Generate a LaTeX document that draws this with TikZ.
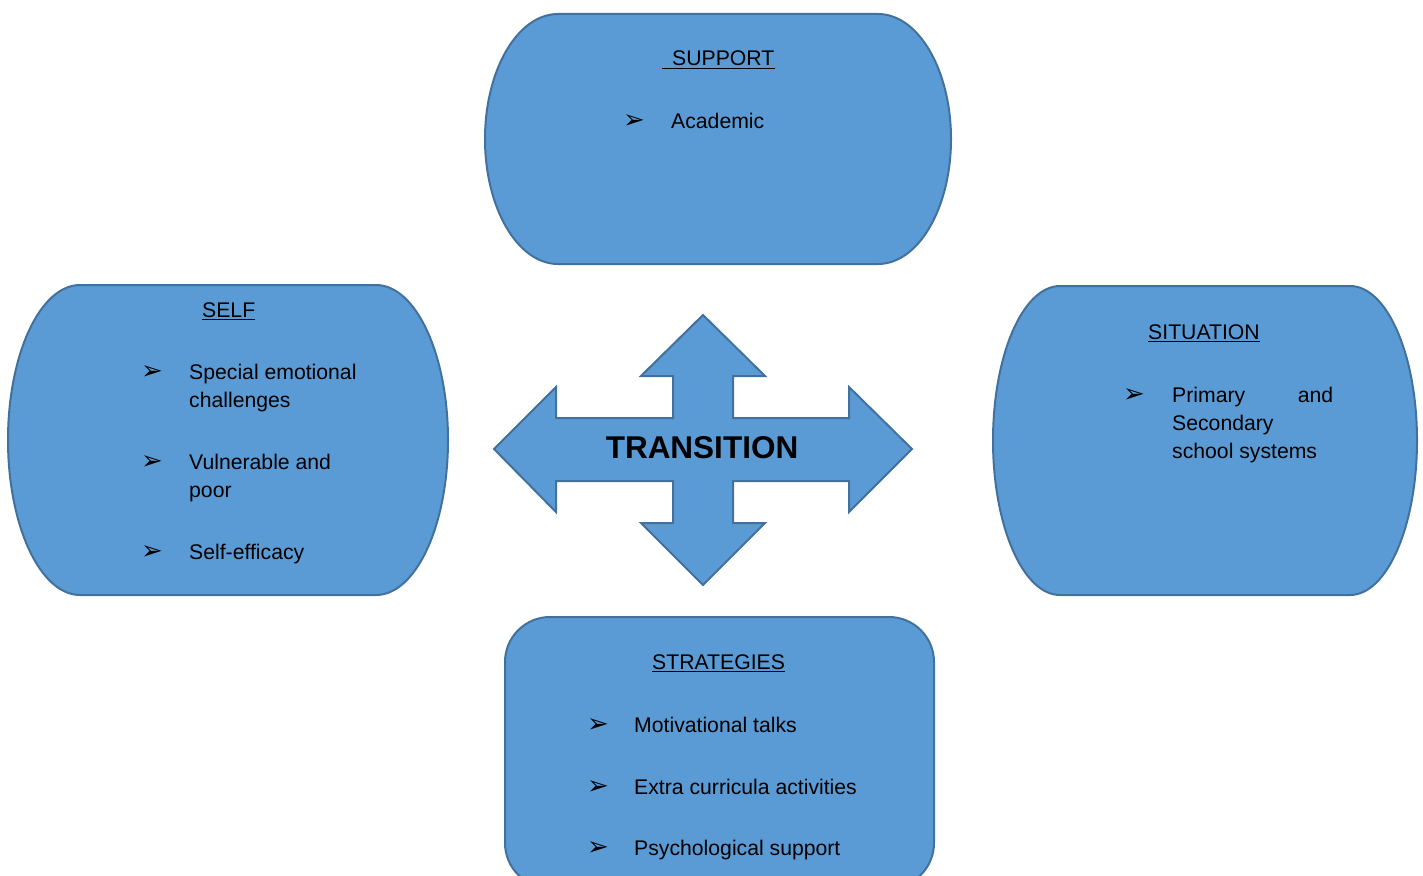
\documentclass[tikz,border=0pt]{standalone}
\usepackage{fontspec}
\setmainfont{Liberation Sans}
\newfontfamily\bulletfont{DejaVu Sans}
\definecolor{boxblue}{HTML}{5B9BD5}
\definecolor{boxedge}{HTML}{41719C}
\newcommand\mybody{\fontsize{21.2}{25}\selectfont}
\newcommand\mybullet{\bulletfont\fontsize{26}{26}\selectfont}
\begin{document}
\begin{tikzpicture}[x=1pt,y=-1pt,
  shapebox/.style={fill=boxblue,draw=boxedge,line width=2pt,line join=round},
  txt/.style={anchor=base west,inner sep=0pt,font=\mybody},
  bul/.style={anchor=west,inner sep=0pt,font=\mybullet,yshift=6pt},
  uline/.style={line width=1.6pt},
  bigtxt/.style={anchor=base,inner sep=0pt,font=\fontsize{31.5}{36}\selectfont\bfseries}]
\useasboundingbox (0,0) rectangle (1423,875);

% SUPPORT: flat top and bottom, elliptical sides
\draw[shapebox] (558,14) -- (878,14)
  arc[start angle=90,end angle=-90,x radius=73pt,y radius=125pt]
  -- (558,264)
  arc[start angle=270,end angle=90,x radius=73pt,y radius=125pt] -- cycle;

% SELF
\draw[shapebox] (80,285) -- (376,285)
  arc[start angle=90,end angle=-90,x radius=72pt,y radius=155pt]
  -- (80,595)
  arc[start angle=270,end angle=90,x radius=72pt,y radius=155pt] -- cycle;

% SITUATION
\draw[shapebox] (1060,286) -- (1350,286)
  arc[start angle=90,end angle=-90,x radius=67pt,y radius=154.5pt]
  -- (1060,595)
  arc[start angle=270,end angle=90,x radius=67pt,y radius=154.5pt] -- cycle;

% STRATEGIES: rounded rectangle running past the lower edge
\draw[shapebox,rounded corners=45pt] (505,617) rectangle (934,888);

% four-way arrow
\draw[shapebox,line join=miter] (703,315) -- (765,376) -- (733,376) -- (733,418)
  -- (849,418) -- (849,387) -- (912,449) -- (849,512) -- (849,481)
  -- (733,481) -- (733,523) -- (765,523) -- (703,585) -- (641,523)
  -- (673,523) -- (673,481) -- (556,481) -- (556,512) -- (494,449)
  -- (556,387) -- (556,418) -- (673,418) -- (673,376) -- (641,376) -- cycle;
\node[bigtxt] (trans) at (702,458) {TRANSITION};

% SUPPORT text
\node[txt] (supT) at (662,66) {\hspace*{10pt}SUPPORT};
\draw[uline] ([yshift=-2.5pt]supT.base west) -- ([yshift=-2.5pt]supT.base east);
\node[bul] (supB1) at (623,128) {➢};
\node[txt] (supI1) at (671,128) {Academic};

% SELF text
\node[txt] (selfT) at (202,317) {SELF};
\draw[uline] ([yshift=-2.5pt]selfT.base west) -- ([yshift=-2.5pt]selfT.base east);
\node[bul] (selfB1) at (141,379) {➢};
\node[txt] (selfI1a) at (189,379) {Special emotional};
\node[txt] (selfI1b) at (189,407) {challenges};
\node[bul] (selfB2) at (141,469) {➢};
\node[txt] (selfI2a) at (189,469) {Vulnerable and};
\node[txt] (selfI2b) at (189,497) {poor};
\node[bul] (selfB3) at (141,559) {➢};
\node[txt] (selfI3) at (189,559) {Self-efficacy};

% SITUATION text
\node[txt] (sitT) at (1148,339) {SITUATION};
\draw[uline] ([yshift=-2.5pt]sitT.base west) -- ([yshift=-2.5pt]sitT.base east);
\node[bul] (sitB1) at (1123,402) {➢};
\node[txt] (sitI1a) at (1172,402) {\makebox[161pt][s]{Primary\hfill and}};
\node[txt] (sitI1b) at (1172,430) {Secondary};
\node[txt] (sitI1c) at (1172,458) {school systems};

% STRATEGIES text
\node[txt] (strT) at (652,669) {STRATEGIES};
\draw[uline] ([yshift=-2.5pt]strT.base west) -- ([yshift=-2.5pt]strT.base east);
\node[bul] (strB1) at (587,732) {➢};
\node[txt] (strI1) at (634,732) {Motivational talks};
\node[bul] (strB2) at (587,794) {➢};
\node[txt] (strI2) at (634,794) {Extra curricula activities};
\node[bul] (strB3) at (587,855) {➢};
\node[txt] (strI3) at (634,855) {Psychological support};
\end{tikzpicture}
\end{document}
